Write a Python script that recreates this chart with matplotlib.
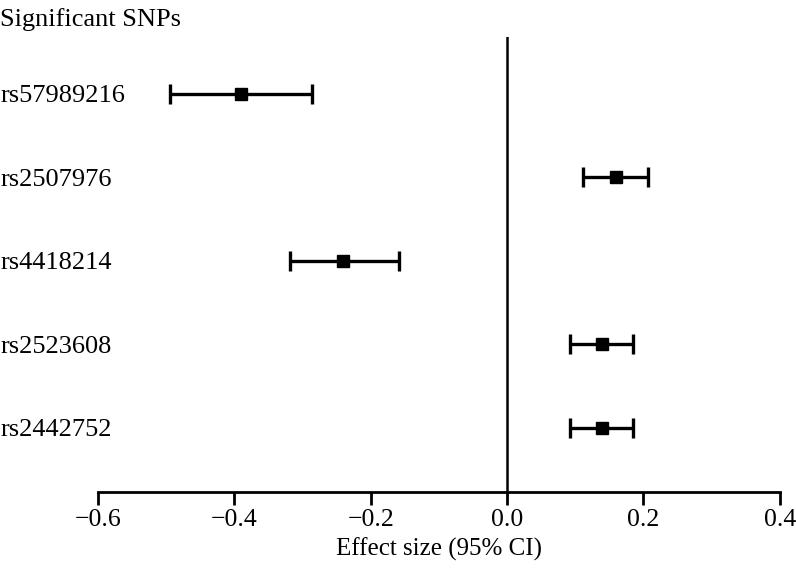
import matplotlib.pyplot as plt

snps = ['rs57989216', 'rs2507976', 'rs4418214', 'rs2523608', 'rs2442752']
effect = [-0.39, 0.16, -0.24, 0.139, 0.139]
ci_low = [-0.494, 0.112, -0.319, 0.093, 0.093]
ci_high = [-0.286, 0.207, -0.159, 0.185, 0.185]
xticks = [-0.6, -0.4, -0.2, 0.0, 0.2, 0.4]

plt.rcParams['font.family'] = ['Liberation Serif', 'DejaVu Serif']
plt.rcParams['axes.unicode_minus'] = True

fig = plt.figure(figsize=(7.96, 5.71), dpi=100)
ax = fig.add_axes([98 / 796, 1 - 492 / 571, (779.7 - 98) / 796, (492 - 37) / 571])

ypos = list(range(len(snps), 0, -1))
err_lo = [e - lo for e, lo in zip(effect, ci_low)]
err_hi = [hi - e for e, hi in zip(effect, ci_high)]

ax.errorbar(effect, ypos, xerr=[err_lo, err_hi], fmt='s', color='black',
            markersize=9, elinewidth=2.4, capsize=7, capthick=2.4)
ax.axvline(0, color='black', linewidth=1.8)

ax.set_xlim(-0.6, 0.4)
ax.set_ylim(0.23, 5.68)
ax.set_xticks(xticks)
ax.set_xticklabels([f'{t:.1f}'.replace('-', '\u2212') for t in xticks])
ax.set_yticks(ypos)
ax.set_yticklabels(snps, ha='left')

for s in ['top', 'right', 'left']:
    ax.spines[s].set_visible(False)
ax.spines['bottom'].set_linewidth(2)
ax.tick_params(axis='x', direction='out', length=9, width=2, labelsize=18.5, pad=3)
ax.tick_params(axis='y', length=0, pad=70.5, labelsize=19)

ax.set_xlabel('Effect size (95% CI)', fontsize=18, labelpad=5)
fig.text(0.0, 1 - 20 / 571, 'Significant SNPs', fontsize=19, va='center', ha='left')

fig.savefig('out.png', dpi=100)
